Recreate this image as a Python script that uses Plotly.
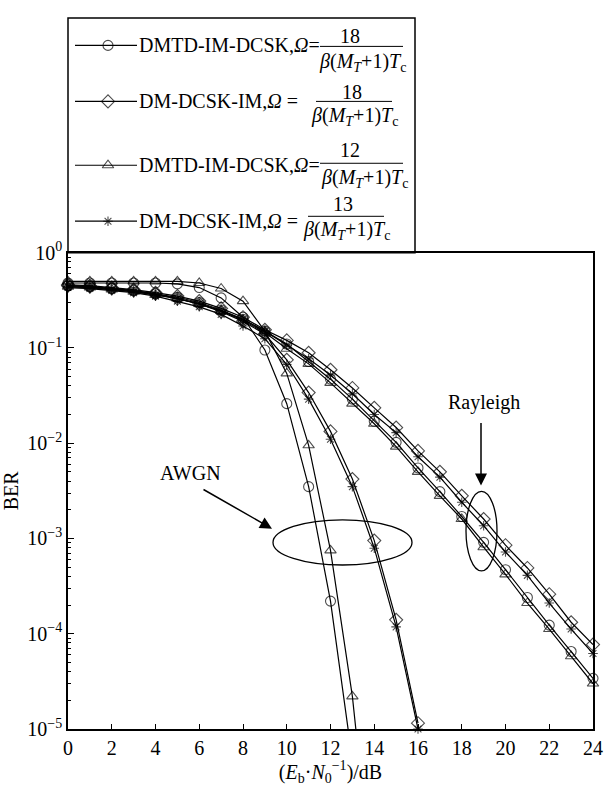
import plotly.graph_objects as go

# ---------------- data ----------------
snr_awgn_c18 = list(range(0, 14))
ber_awgn_dmtd18 = [0.48, 0.48, 0.48, 0.48, 0.48, 0.47, 0.43, 0.335, 0.21, 0.095, 0.026, 0.0035, 2.2e-4, 4.7e-6]
snr_awgn_t12 = list(range(0, 15))
ber_awgn_dmtd12 = [0.50, 0.50, 0.50, 0.50, 0.50, 0.50, 0.48, 0.42, 0.31, 0.15, 0.054, 0.0095, 7.5e-4, 2.2e-5, 1.5e-7]
snr_awgn_dm = list(range(0, 17))
ber_awgn_dm18 = [0.45, 0.44, 0.42, 0.40, 0.37, 0.33, 0.29, 0.24, 0.19, 0.14, 0.075, 0.034, 0.0133, 0.0042, 9.5e-4, 1.4e-4, 1.15e-5]
ber_awgn_dm13 = [0.43, 0.42, 0.40, 0.38, 0.35, 0.31, 0.27, 0.225, 0.17, 0.125, 0.067, 0.029, 0.011, 0.0035, 7.9e-4, 1.18e-4, 1.0e-5]

snr_ray = list(range(0, 25))
ber_ray_dmtd18 = [0.45, 0.44, 0.42, 0.40, 0.37, 0.34, 0.30, 0.25, 0.20, 0.15, 0.11, 0.072, 0.047, 0.029, 0.017,
                  0.0102, 0.0055, 0.0031, 0.0017, 9.1e-4, 4.7e-4, 2.4e-4, 1.23e-4, 6.5e-5, 3.4e-5]
ber_ray_dmtd12 = [0.44, 0.43, 0.41, 0.39, 0.36, 0.33, 0.29, 0.245, 0.195, 0.145, 0.098, 0.068, 0.043, 0.026, 0.016,
                  0.0092, 0.0050, 0.0028, 0.0016, 8.1e-4, 4.2e-4, 2.1e-4, 1.12e-4, 5.8e-5, 3.0e-5]
ber_ray_dm18 = [0.46, 0.45, 0.43, 0.41, 0.38, 0.35, 0.31, 0.26, 0.21, 0.155, 0.12, 0.089, 0.059, 0.038, 0.0235,
                0.0146, 0.0083, 0.0050, 0.0028, 0.0016, 8.5e-4, 4.9e-4, 2.6e-4, 1.32e-4, 7.7e-5]
ber_ray_dm13 = [0.44, 0.43, 0.41, 0.39, 0.36, 0.33, 0.29, 0.245, 0.20, 0.15, 0.107, 0.077, 0.052, 0.033, 0.020,
                0.0129, 0.0072, 0.0044, 0.0024, 0.00136, 7.2e-4, 4.1e-4, 2.1e-4, 1.12e-4, 6.2e-5]

x_ticks = list(range(0, 25, 2))
y_ticks = [1e-5, 1e-4, 1e-3, 1e-2, 1e-1, 1]
y_ticktext = ["10<sup>−5</sup>", "10<sup>−4</sup>", "10<sup>−3</sup>", "10<sup>−2</sup>", "10<sup>−1</sup>", "10<sup>0</sup>"]

legend_names = ["DMTD-IM-DCSK,<i>Ω</i>=", "DM-DCSK-IM,<i>Ω</i> =", "DMTD-IM-DCSK,<i>Ω</i>=", "DM-DCSK-IM,<i>Ω</i> ="]
legend_numerators = ["18", "18", "12", "13"]
denominator = "<i>β</i>(<i>M</i><sub><i>T</i></sub>+1)<i>T</i><sub>c</sub>"
symbols = ["circle-open", "diamond-open", "triangle-up-open", "asterisk-open"]

FONT = "Liberation Serif, Times New Roman, Times, serif"
W, H = 605, 786
ML, MR, MT, MB = 68, 12, 0, 57
PW = W - ML - MR
PH = H - MT - MB

def xp(px):
    return (px - ML) / PW

def yp(py):
    return (H - MB - py) / PH

fig = go.Figure()

series = [
    (snr_awgn_c18, ber_awgn_dmtd18, symbols[0]),
    (snr_awgn_dm, ber_awgn_dm18, symbols[1]),
    (snr_awgn_t12, ber_awgn_dmtd12, symbols[2]),
    (snr_awgn_dm, ber_awgn_dm13, symbols[3]),
    (snr_ray, ber_ray_dmtd18, symbols[0]),
    (snr_ray, ber_ray_dm18, symbols[1]),
    (snr_ray, ber_ray_dmtd12, symbols[2]),
    (snr_ray, ber_ray_dm13, symbols[3]),
]
for xs, ys, sym in series:
    base = 8 if sym == "asterisk-open" else 10
    sizes = [base if v >= 1e-5 else 0 for v in ys]
    fig.add_trace(go.Scatter(
        x=xs, y=ys, mode="lines+markers", showlegend=False, cliponaxis=False,
        line=dict(color="black", width=1.2),
        marker=dict(symbol=sym, size=sizes, color="black", line=dict(color="black", width=1.1)),
        xaxis="x", yaxis="y"))

# legend samples on a pixel-scaled helper axis
legend_rows = [33, 90, 155, 212]
for row, sym in zip(legend_rows, symbols):
    base = 8 if sym == "asterisk-open" else 10
    fig.add_trace(go.Scatter(
        x=[75, 108, 137], y=[row, row, row], mode="lines+markers", showlegend=False,
        line=dict(color="black", width=1.2),
        marker=dict(symbol=sym, size=[0, base, 0], color="black", line=dict(color="black", width=1.1)),
        xaxis="x2", yaxis="y2", hoverinfo="skip"))

minor_vals = [k * 10 ** d for d in range(-5, 0) for k in range(2, 10)]

fig.update_layout(
    width=W, height=H,
    margin=dict(l=ML, r=MR, t=MT, b=MB),
    paper_bgcolor="white", plot_bgcolor="white",
    font=dict(family=FONT, size=20, color="black"),
    xaxis=dict(
        domain=[0, 1], range=[0, 24], tickvals=x_ticks, ticks="inside", ticklen=5, tickwidth=1.2,
        tickcolor="black", showline=True, linecolor="black", linewidth=1.5, mirror=True,
        showgrid=False, zeroline=False, tickfont=dict(size=20, family=FONT),
        title=dict(text="(<i>E</i><sub>b</sub>·<i>N</i><sub>0</sub><sup>−1</sup>)/dB",
                   font=dict(size=20, family=FONT), standoff=6),
        anchor="y"),
    yaxis=dict(
        type="log", domain=[0, yp(244)], range=[-5, 0], tickvals=y_ticks, ticktext=y_ticktext,
        ticks="inside", ticklen=6, tickwidth=1.2, tickcolor="black",
        minor=dict(tickvals=minor_vals, ticks="inside", ticklen=3, tickwidth=1, tickcolor="black", showgrid=False),
        showline=True, linecolor="black", linewidth=1.5, mirror=True,
        showgrid=False, zeroline=False, tickfont=dict(size=20, family=FONT),
        title=dict(text="BER", font=dict(size=20, family=FONT), standoff=4),
        anchor="x"),
    xaxis2=dict(domain=[0, xp(415)], range=[68, 415], visible=False, anchor="y2", fixedrange=True),
    yaxis2=dict(domain=[yp(244), yp(5)], range=[244, 5], visible=False, anchor="x2", fixedrange=True),
)

shapes = []
annotations = []
# legend box
shapes.append(dict(type="rect", xref="paper", yref="paper", x0=0, x1=xp(415), y0=yp(244), y1=yp(5),
                   line=dict(color="black", width=1.5), fillcolor="rgba(0,0,0,0)", layer="above"))

frac_specs = [
    # numerator center x, numerator y, bar x0, bar x1, bar y, denom center x, denom y
    (350, 23, 320, 403, 34, 362, 50),
    (352, 80, 316, 392, 90, 354, 105),
    (350, 139, 320, 403, 153, 364, 168),
    (343, 194, 308, 384, 207, 346, 221),
]
for name, num, row, (nx, ny, bx0, bx1, by, dx, dy) in zip(legend_names, legend_numerators, legend_rows, frac_specs):
    annotations.append(dict(text=name, xref="paper", yref="paper", x=xp(137), y=yp(row),
                            xanchor="left", yanchor="middle", showarrow=False, font=dict(size=20, family=FONT)))
    annotations.append(dict(text=num, xref="paper", yref="paper", x=xp(nx), y=yp(ny),
                            xanchor="center", yanchor="middle", showarrow=False, font=dict(size=20, family=FONT)))
    annotations.append(dict(text=denominator, xref="paper", yref="paper", x=xp(dx), y=yp(dy),
                            xanchor="center", yanchor="middle", showarrow=False, font=dict(size=20, family=FONT)))
    shapes.append(dict(type="line", xref="paper", yref="paper", x0=xp(bx0), x1=xp(bx1), y0=yp(by), y1=yp(by),
                       line=dict(color="black", width=1)))

# ellipses
shapes.append(dict(type="circle", xref="paper", yref="paper", x0=xp(273), x1=xp(412), y0=yp(562), y1=yp(516),
                   line=dict(color="black", width=1.3)))
shapes.append(dict(type="circle", xref="paper", yref="paper", x0=xp(466), x1=xp(497), y0=yp(568), y1=yp(487),
                   line=dict(color="black", width=1.3)))

# labels and arrows
annotations.append(dict(text="AWGN", xref="paper", yref="paper", x=xp(190), y=yp(468),
                        xanchor="center", yanchor="middle", showarrow=False, font=dict(size=20, family=FONT)))
annotations.append(dict(text="Rayleigh", xref="paper", yref="paper", x=xp(484), y=yp(397),
                        xanchor="center", yanchor="middle", showarrow=False, font=dict(size=20, family=FONT)))
annotations.append(dict(text="", xref="paper", yref="paper", x=xp(272), y=yp(525), ax=-70, ay=-40,
                        showarrow=True, arrowhead=2, arrowsize=1.6, arrowwidth=1.5, arrowcolor="black"))
annotations.append(dict(text="", xref="paper", yref="paper", x=xp(481), y=yp(481), ax=0, ay=-64,
                        showarrow=True, arrowhead=2, arrowsize=1.6, arrowwidth=1.5, arrowcolor="black"))

fig.update_layout(shapes=shapes, annotations=annotations)

fig.write_html("out.html")
